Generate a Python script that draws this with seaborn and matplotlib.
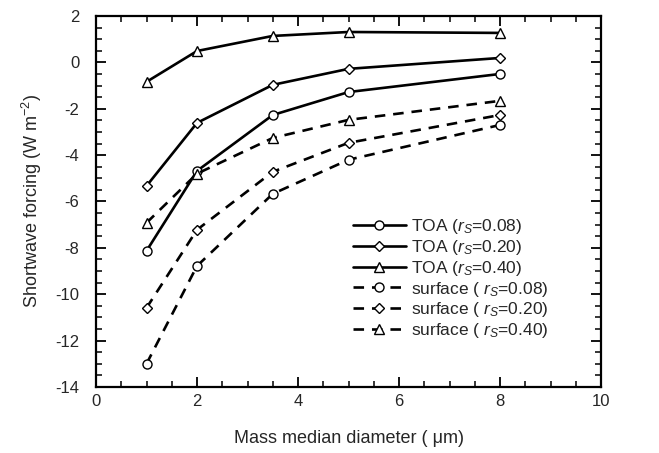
import matplotlib
matplotlib.use("Agg")
import matplotlib.pyplot as plt
import seaborn as sns
import pandas as pd
from matplotlib.ticker import MultipleLocator

sns.set_theme(style="ticks")
plt.rcParams['font.family'] = ['Liberation Sans', 'DejaVu Sans']
plt.rcParams['mathtext.fontset'] = 'custom'
plt.rcParams['mathtext.rm'] = 'Liberation Sans'
plt.rcParams['mathtext.it'] = 'Liberation Sans:italic'
plt.rcParams['axes.unicode_minus'] = False

diameter = [1, 2, 3.5, 5, 8]
toa_008 = [-8.13, -4.68, -2.27, -1.28, -0.50]
toa_020 = [-5.33, -2.61, -0.97, -0.28, 0.19]
toa_040 = [-0.84, 0.49, 1.14, 1.31, 1.27]
sfc_008 = [-13.0, -8.78, -5.67, -4.20, -2.70]
sfc_020 = [-10.59, -7.22, -4.72, -3.47, -2.27]
sfc_040 = [-6.92, -4.80, -3.26, -2.48, -1.66]

series = [
    (r'TOA ($\it{r}_{S}$=0.08)', toa_008, 'o', '-'),
    (r'TOA ($\it{r}_{S}$=0.20)', toa_020, 'D', '-'),
    (r'TOA ($\it{r}_{S}$=0.40)', toa_040, '^', '-'),
    (r'surface ( $\it{r}_{S}$=0.08)', sfc_008, 'o', '--'),
    (r'surface ( $\it{r}_{S}$=0.20)', sfc_020, 'D', '--'),
    (r'surface ( $\it{r}_{S}$=0.40)', sfc_040, '^', '--'),
]

fig = plt.figure(figsize=(6.59, 4.53), dpi=100)
ax = fig.add_axes([0.1457, 0.1457, 0.912 - 0.1457, 0.9647 - 0.1457])

for label, vals, mk, ls in series:
    df = pd.DataFrame({'x': diameter, 'y': vals})
    ms = 5 if mk == 'D' else 6.5
    sns.lineplot(data=df, x='x', y='y', ax=ax, color='black', linewidth=1.9,
                 linestyle=ls, marker=mk, markersize=ms, markerfacecolor='white',
                 markeredgecolor='black', markeredgewidth=1.0, label=label)
    if ls == '--':
        ax.lines[-1].set_dashes((4, 3))

ax.set_xlim(0, 10)
ax.set_ylim(-14, 2)
ax.xaxis.set_major_locator(MultipleLocator(2))
ax.xaxis.set_minor_locator(MultipleLocator(0.5))
ax.yaxis.set_major_locator(MultipleLocator(2))
ax.yaxis.set_minor_locator(MultipleLocator(0.5))
ax.tick_params(which='both', direction='in', top=True, right=True, color='black')
ax.tick_params(which='major', length=7, width=1.3, labelsize=12)
ax.tick_params(axis='x', which='major', pad=5)
ax.tick_params(axis='y', which='major', pad=12)
ax.tick_params(which='minor', length=4, width=1.1)
for s in ax.spines.values():
    s.set_linewidth(1.6)
    s.set_color('black')

ax.set_xlabel('Mass median diameter ( μm)', fontsize=13, labelpad=15)
ax.set_ylabel(r'Shortwave forcing (W m$^{-2}$)', fontsize=13, labelpad=8)

handles, labels = ax.get_legend_handles_labels()
for h in handles:
    if h.get_linestyle() != '-':
        h.set_dashes((4, 3))
leg = ax.legend(handles, labels, loc='lower left', bbox_to_anchor=(0.496, 0.108),
                frameon=False, fontsize=12.5, handlelength=3.0, labelspacing=0.1,
                handletextpad=0.3, borderaxespad=0)

fig.savefig('out.png', dpi=100)
